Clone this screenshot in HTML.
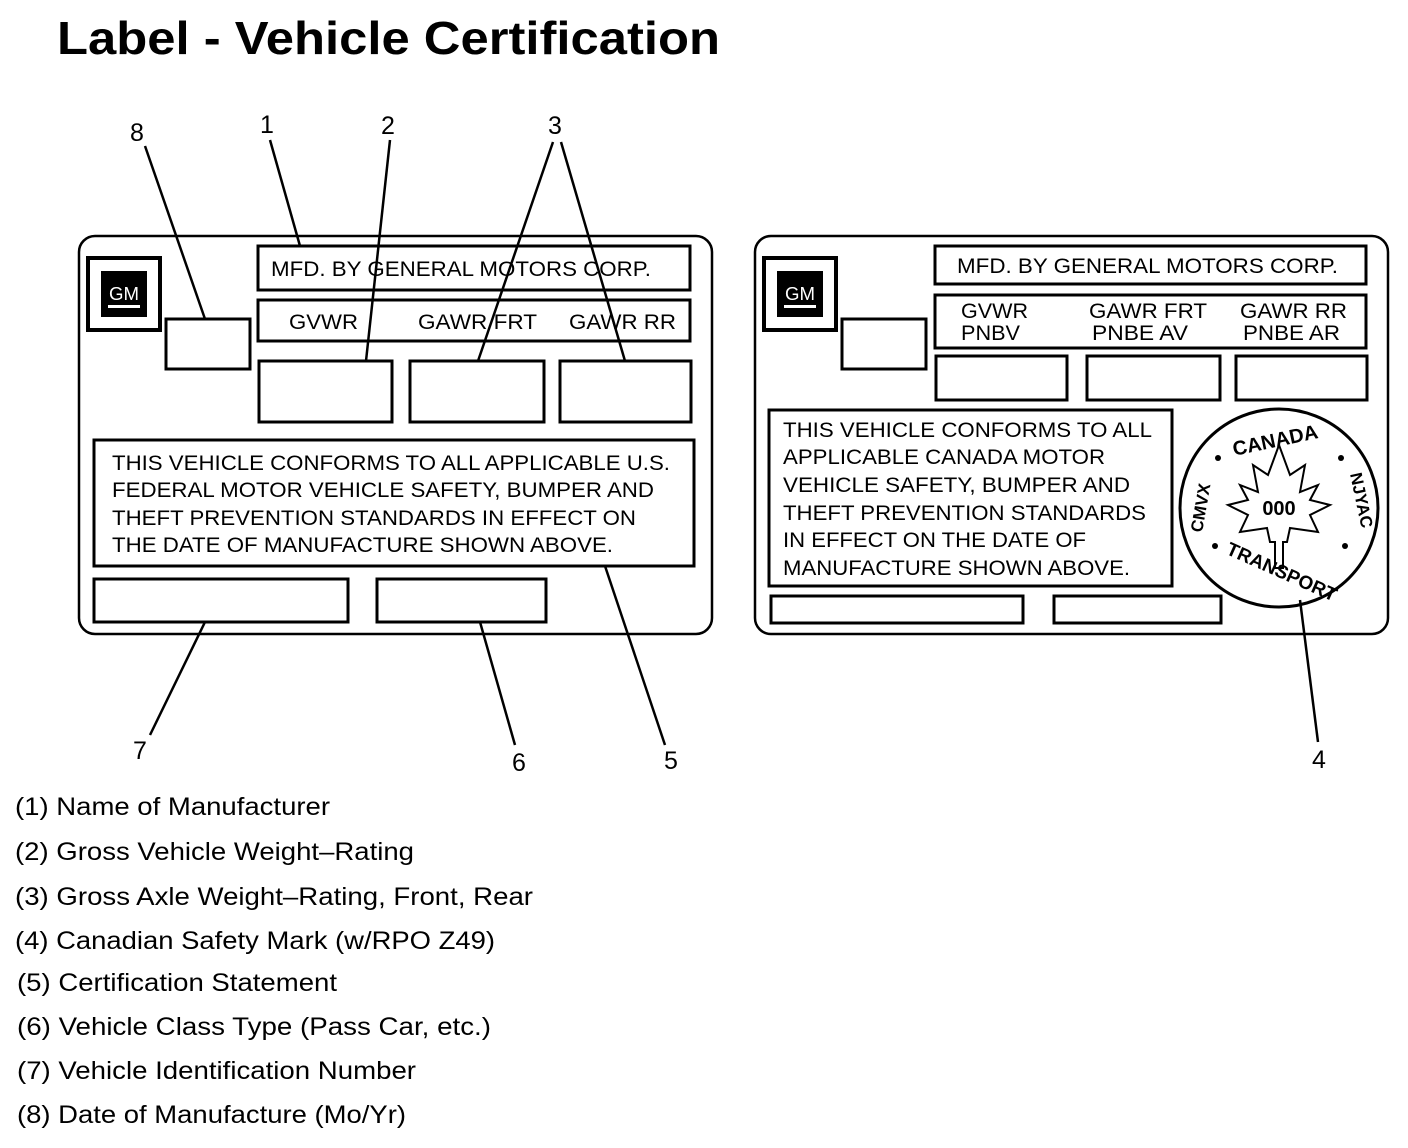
<!DOCTYPE html>
<html><head><style>body{margin:0;background:#fff}svg{display:block}</style></head><body>
<svg width="1408" height="1148" xmlns="http://www.w3.org/2000/svg" font-family="Liberation Sans, sans-serif">
<rect width="1408" height="1148" fill="#fff"/>
<text x="57" y="54" font-size="46" font-weight="bold" textLength="663" lengthAdjust="spacingAndGlyphs">Label - Vehicle Certification</text>
<g fill="none" stroke="#000" stroke-width="2.5">
<rect x="79" y="236" width="633" height="398" rx="16"/>
<rect x="88" y="258" width="72" height="72" stroke-width="4"/>
<rect x="166" y="319" width="84" height="50" stroke-width="3"/>
<rect x="258" y="246" width="432" height="44" stroke-width="3"/>
<rect x="258" y="300" width="432" height="41" stroke-width="3"/>
<rect x="259" y="361" width="133" height="61" stroke-width="3"/>
<rect x="410" y="361" width="134" height="61" stroke-width="3"/>
<rect x="560" y="361" width="131" height="61" stroke-width="3"/>
<rect x="94" y="440" width="600" height="126" stroke-width="3"/>
<rect x="94" y="579" width="254" height="43" stroke-width="3"/>
<rect x="377" y="579" width="169" height="43" stroke-width="3"/>
<line x1="145" y1="146" x2="205" y2="319"/>
<line x1="270" y1="140" x2="300" y2="246"/>
<line x1="390" y1="140" x2="366" y2="361"/>
<line x1="553" y1="142" x2="478" y2="361"/>
<line x1="561" y1="142" x2="625" y2="361"/>
<line x1="150" y1="735" x2="205" y2="622"/>
<line x1="515" y1="745" x2="480" y2="622"/>
<line x1="665" y1="745" x2="605" y2="566"/>
<rect x="755" y="236" width="633" height="398" rx="16"/>
<rect x="764" y="258" width="72" height="72" stroke-width="4"/>
<rect x="842" y="319" width="84" height="50" stroke-width="3"/>
<rect x="935" y="246" width="431" height="38" stroke-width="3"/>
<rect x="935" y="295" width="431" height="53" stroke-width="3"/>
<rect x="936" y="356" width="131" height="44" stroke-width="3"/>
<rect x="1087" y="356" width="133" height="44" stroke-width="3"/>
<rect x="1236" y="356" width="131" height="44" stroke-width="3"/>
<rect x="769" y="410" width="403" height="176" stroke-width="3"/>
<rect x="771" y="596" width="252" height="27" stroke-width="3"/>
<rect x="1054" y="596" width="167" height="27" stroke-width="3"/>
<circle cx="1279" cy="508" r="99" stroke-width="3"/>
<line x1="1300" y1="600" x2="1318" y2="742"/>
<path d="M1279 445 L1290 475 L1305 465 L1300 492 L1318 485 L1310 500 L1330 505 L1310 515 L1318 532 L1290 528 L1287 542 L1283 542 L1283 568 L1275 568 L1275 542 L1270 542 L1267 528 L1240 532 L1248 515 L1228 505 L1248 500 L1240 485 L1258 492 L1253 465 L1268 475 Z" stroke-width="2"/>
</g>
<rect x="101" y="271" width="46" height="46" fill="#000"/>
<rect x="777" y="271" width="46" height="46" fill="#000"/>
<g fill="#fff" font-size="18" text-anchor="middle"><text x="124" y="300" textLength="30" lengthAdjust="spacingAndGlyphs">GM</text><text x="800" y="300" textLength="30" lengthAdjust="spacingAndGlyphs">GM</text></g>
<rect x="108" y="305" width="32" height="3" fill="#fff"/><rect x="784" y="305" width="32" height="3" fill="#fff"/>
<g font-size="21" lengthAdjust="spacingAndGlyphs">
<text x="271" y="276" textLength="380" lengthAdjust="spacingAndGlyphs">MFD. BY GENERAL MOTORS CORP.</text>
<text x="289" y="329" textLength="69" lengthAdjust="spacingAndGlyphs">GVWR</text><text x="418" y="329" textLength="119" lengthAdjust="spacingAndGlyphs">GAWR FRT</text><text x="569" y="329" textLength="107" lengthAdjust="spacingAndGlyphs">GAWR RR</text>
<text x="112" y="470" textLength="558" lengthAdjust="spacingAndGlyphs">THIS VEHICLE CONFORMS TO ALL APPLICABLE U.S.</text>
<text x="112" y="497" textLength="542" lengthAdjust="spacingAndGlyphs">FEDERAL MOTOR VEHICLE SAFETY, BUMPER AND</text>
<text x="112" y="525" textLength="524" lengthAdjust="spacingAndGlyphs">THEFT PREVENTION STANDARDS IN EFFECT ON</text>
<text x="112" y="552" textLength="501" lengthAdjust="spacingAndGlyphs">THE DATE OF MANUFACTURE SHOWN ABOVE.</text>
<text x="957" y="273" textLength="381" lengthAdjust="spacingAndGlyphs">MFD. BY GENERAL MOTORS CORP.</text>
<text x="961" y="318" textLength="67" lengthAdjust="spacingAndGlyphs">GVWR</text><text x="961" y="340" textLength="59" lengthAdjust="spacingAndGlyphs">PNBV</text>
<text x="1089" y="318" textLength="118" lengthAdjust="spacingAndGlyphs">GAWR FRT</text><text x="1092" y="340" textLength="96" lengthAdjust="spacingAndGlyphs">PNBE AV</text>
<text x="1240" y="318" textLength="107" lengthAdjust="spacingAndGlyphs">GAWR RR</text><text x="1243" y="340" textLength="97" lengthAdjust="spacingAndGlyphs">PNBE AR</text>
<text x="783" y="437" textLength="369" lengthAdjust="spacingAndGlyphs">THIS VEHICLE CONFORMS TO ALL</text>
<text x="783" y="464" textLength="322" lengthAdjust="spacingAndGlyphs">APPLICABLE CANADA MOTOR</text>
<text x="783" y="492" textLength="347" lengthAdjust="spacingAndGlyphs">VEHICLE SAFETY, BUMPER AND</text>
<text x="783" y="520" textLength="363" lengthAdjust="spacingAndGlyphs">THEFT PREVENTION STANDARDS</text>
<text x="783" y="547" textLength="303" lengthAdjust="spacingAndGlyphs">IN EFFECT ON THE DATE OF</text>
<text x="783" y="575" textLength="347" lengthAdjust="spacingAndGlyphs">MANUFACTURE SHOWN ABOVE.</text>
</g>
<g font-weight="bold">
<text x="1279" y="515" text-anchor="middle" font-size="20">000</text>
<text x="1232" y="446" font-size="20" transform="rotate(-12 1280 440)">CANADA</text>
<text x="1220" y="578" font-size="19" transform="rotate(24 1280 578)">TRANSPORT</text>
<text x="1202" y="533" font-size="17" transform="rotate(-80 1202 533)">CMVX</text>
<text x="1350" y="474" font-size="17" transform="rotate(78 1350 474)">NJYAC</text>
</g>
<g fill="#000"><circle cx="1218" cy="458" r="3"/><circle cx="1341" cy="458" r="3"/><circle cx="1215" cy="546" r="3"/><circle cx="1345" cy="546" r="3"/></g>
<g font-size="25">
<text x="130" y="141">8</text><text x="260" y="133">1</text><text x="381" y="134">2</text><text x="548" y="134">3</text>
<text x="133" y="759">7</text><text x="512" y="771">6</text><text x="664" y="769">5</text><text x="1312" y="768">4</text>
</g>
<g font-size="25">
<text x="15" y="815" textLength="315" lengthAdjust="spacingAndGlyphs">(1) Name of Manufacturer</text>
<text x="15" y="860" textLength="399" lengthAdjust="spacingAndGlyphs">(2) Gross Vehicle Weight–Rating</text>
<text x="15" y="905" textLength="518" lengthAdjust="spacingAndGlyphs">(3) Gross Axle Weight–Rating, Front, Rear</text>
<text x="15" y="949" textLength="480" lengthAdjust="spacingAndGlyphs">(4) Canadian Safety Mark (w/RPO Z49)</text>
<text x="17" y="991" textLength="320" lengthAdjust="spacingAndGlyphs">(5) Certification Statement</text>
<text x="17" y="1035" textLength="474" lengthAdjust="spacingAndGlyphs">(6) Vehicle Class Type (Pass Car, etc.)</text>
<text x="17" y="1079" textLength="399" lengthAdjust="spacingAndGlyphs">(7) Vehicle Identification Number</text>
<text x="17" y="1123" textLength="389" lengthAdjust="spacingAndGlyphs">(8) Date of Manufacture (Mo/Yr)</text>
</g>
</svg>
</body></html>
